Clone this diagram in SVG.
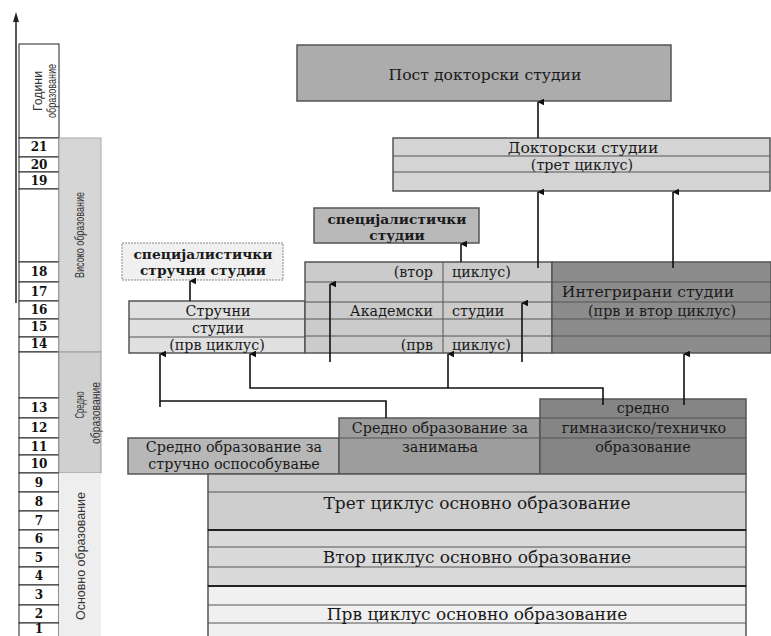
<svg xmlns="http://www.w3.org/2000/svg" width="771" height="636" viewBox="0 0 771 636">
<style>
.t{font-family:"DejaVu Serif","Liberation Serif",serif;fill:#1a1a1a;text-anchor:middle;dominant-baseline:central;font-size:14.3px}
.L{font-size:15.6px}
.B{font-size:17px}
.b{font-weight:bold;font-size:13.8px}
.s{text-anchor:start}
.e{text-anchor:end}
.n{font-family:"DejaVu Serif","Liberation Serif",serif;font-weight:bold;font-size:12px;fill:#111;text-anchor:middle;dominant-baseline:central}
.v{font-family:"Liberation Sans",sans-serif;font-size:13px;fill:#333;text-anchor:middle;dominant-baseline:central}
.box{stroke:#555;stroke-width:1.5}
.div{stroke:#555;stroke-width:1;fill:none}
.yr{fill:#fff;stroke:#222;stroke-width:1}
.c{stroke:#111;stroke-width:1.6;fill:none}
</style>
<defs>
<marker id="ah" viewBox="0 0 10 10" refX="5" refY="1" markerWidth="7" markerHeight="7" orient="auto-start-reverse" markerUnits="userSpaceOnUse">
<path d="M0,10 L5,0 L10,10 Z" fill="#111"/>
</marker>
</defs>
<rect width="771" height="636" fill="#fff"/>

<g id="axis">
<line x1="16" y1="303" x2="16" y2="18" stroke="#222" stroke-width="1.5"/>
<path d="M13,22 L16,12 L19,22 Z" fill="#222"/>
</g>

<g id="years">
<rect class="yr" x="19" y="44" width="40" height="94"/>
<text class="v" transform="translate(37,91) rotate(-90)" textLength="40" lengthAdjust="spacingAndGlyphs" font-size="12">Години</text>
<text class="v" transform="translate(51,91) rotate(-90)" textLength="54" lengthAdjust="spacingAndGlyphs" font-size="12">образование</text>
<rect class="yr" x="19" y="138" width="40" height="19"/><text class="n" x="39" y="147">21</text>
<rect class="yr" x="19" y="157" width="40" height="15"/><text class="n" x="39" y="164.5">20</text>
<rect class="yr" x="19" y="172" width="40" height="17"/><text class="n" x="39" y="180.5">19</text>
<rect class="yr" x="19" y="189" width="40" height="73"/>
<rect class="yr" x="19" y="262" width="40" height="20"/><text class="n" x="39" y="272">18</text>
<rect class="yr" x="19" y="282" width="40" height="19"/><text class="n" x="39" y="291.5">17</text>
<rect class="yr" x="19" y="301" width="40" height="18"/><text class="n" x="39" y="310">16</text>
<rect class="yr" x="19" y="319" width="40" height="18"/><text class="n" x="39" y="327">15</text>
<rect class="yr" x="19" y="337" width="40" height="15"/><text class="n" x="39" y="344">14</text>
<rect class="yr" x="19" y="352" width="40" height="46"/>
<rect class="yr" x="19" y="398" width="40" height="20"/><text class="n" x="39" y="408">13</text>
<rect class="yr" x="19" y="418" width="40" height="20"/><text class="n" x="39" y="428">12</text>
<rect class="yr" x="19" y="438" width="40" height="17"/><text class="n" x="39" y="446.5">11</text>
<rect class="yr" x="19" y="455" width="40" height="18"/><text class="n" x="39" y="464">10</text>
<rect class="yr" x="19" y="473" width="40" height="19"/><text class="n" x="39" y="482.5">9</text>
<rect class="yr" x="19" y="492" width="40" height="19"/><text class="n" x="39" y="501.5">8</text>
<rect class="yr" x="19" y="511" width="40" height="19"/><text class="n" x="39" y="520.5">7</text>
<rect class="yr" x="19" y="530" width="40" height="18"/><text class="n" x="39" y="539">6</text>
<rect class="yr" x="19" y="548" width="40" height="19"/><text class="n" x="39" y="557.5">5</text>
<rect class="yr" x="19" y="567" width="40" height="18"/><text class="n" x="39" y="576">4</text>
<rect class="yr" x="19" y="585" width="40" height="20"/><text class="n" x="39" y="595">3</text>
<rect class="yr" x="19" y="605" width="40" height="18"/><text class="n" x="39" y="614">2</text>
<rect class="yr" x="19" y="623" width="40" height="20"/><text class="n" x="39" y="629" font-size="11">1</text>
</g>

<g id="level-visoko">
<rect x="59" y="138" width="42" height="214" fill="#d6d6d6" stroke="#aaa" stroke-width="1"/>
<text class="v" transform="translate(79,235) rotate(-90)" textLength="86" lengthAdjust="spacingAndGlyphs">Високо образование</text>
</g>
<g id="level-sredno">
<rect x="59" y="352" width="42" height="121" fill="#d0d0d0" stroke="#999" stroke-width="1"/>
<text class="v" transform="translate(79,405) rotate(-90)" textLength="27" lengthAdjust="spacingAndGlyphs">Средно</text>
<text class="v" transform="translate(95,413) rotate(-90)" textLength="62" lengthAdjust="spacingAndGlyphs">образование</text>
</g>
<g id="level-osnovno">
<rect x="59" y="473" width="42" height="163" fill="#eeeeee"/>
<text class="v" transform="translate(80,556) rotate(-90)" textLength="128" lengthAdjust="spacingAndGlyphs">Основно образование</text>
</g>

<g id="postdoc">
<rect class="box" x="297" y="45" width="374" height="56" fill="#acacac"/>
<text class="t L" x="485" y="75">Пост докторски студии</text>
</g>

<g id="doctoral">
<rect class="box" x="393" y="138" width="377" height="53" fill="#d4d4d4"/>
<path class="div" d="M393,156H770M393,172H770"/>
<text class="t L" x="583" y="148">Докторски студии</text>
<text class="t" x="582" y="165">(трет циклус)</text>
</g>

<g id="spec-academic">
<rect class="box" x="314" y="208" width="165" height="35" fill="#b9b9b9"/>
<text class="t b" x="397" y="219">специјалистички</text>
<text class="t b" x="397" y="235">студии</text>
</g>

<g id="spec-vocational">
<rect x="122" y="243" width="161" height="37" fill="#f0f0f0" stroke="#888" stroke-width="1" stroke-dasharray="2,1"/>
<text class="t b" x="203" y="254">специјалистички</text>
<text class="t b" x="203" y="270">стручни студии</text>
</g>

<g id="vocational">
<rect class="box" x="129" y="301" width="176" height="52" fill="#e0e0e0"/>
<path class="div" d="M129,319H305M129,337H305"/>
<text class="t" x="218" y="311">Стручни</text>
<text class="t" x="218" y="328">студии</text>
<text class="t" x="217" y="345">(прв циклус)</text>
</g>

<g id="academic">
<rect class="box" x="305" y="262" width="247" height="91" fill="#cbcbcb"/>
<path class="div" d="M305,282H552M305,302H552M305,319H552M305,336H552M443,262V353"/>
<text class="t e" x="433" y="272">(втор</text>
<text class="t s" x="452" y="272">циклус)</text>
<text class="t e" x="433" y="311">Академски</text>
<text class="t s" x="452" y="311">студии</text>
<text class="t e" x="433" y="345">(прв</text>
<text class="t s" x="452" y="345">циклус)</text>
</g>

<g id="integrated">
<rect class="box" x="552" y="262" width="219" height="91" fill="#8c8c8c"/>
<path class="div" d="M552,282H771M552,302H771M552,319H771M552,336H771" stroke="#444"/>
<text class="t L" x="648" y="292">Интегрирани студии</text>
<text class="t" x="662" y="311">(прв и втор циклус)</text>
</g>

<g id="sec-training">
<rect class="box" x="128" y="438" width="211" height="36" fill="#b7b7b7"/>
<text class="t" x="234" y="447">Средно образование за</text>
<text class="t" x="234" y="464">стручно оспособување</text>
</g>

<g id="sec-occupations">
<rect class="box" x="339" y="418" width="201" height="56" fill="#9d9d9d"/>
<path class="div" d="M339,438H540"/>
<text class="t" x="440" y="428">Средно образование за</text>
<text class="t" x="440" y="447">занимања</text>
</g>

<g id="sec-gymnasium">
<rect class="box" x="540" y="399" width="206" height="75" fill="#858585"/>
<path class="div" d="M540,418H746M540,438H746" stroke="#444"/>
<text class="t" x="643" y="408">средно</text>
<text class="t" x="644" y="428">гимназиско/техничко</text>
<text class="t" x="643" y="447">образование</text>
</g>

<g id="basic-3">
<rect class="box" x="208" y="474" width="538" height="56" fill="#cecece"/>
<path class="div" d="M208,492H746"/>
<text class="t B" x="477" y="503">Трет циклус основно образование</text>
</g>
<g id="basic-2">
<rect class="box" x="208" y="530" width="538" height="56" fill="#dadada"/>
<path class="div" d="M208,547H746M208,567H746"/>
<text class="t B" x="477" y="557">Втор циклус основно образование</text>
</g>
<g id="basic-1">
<rect class="box" x="208" y="586" width="538" height="52" fill="#f0f0f0"/>
<path class="div" d="M208,605H746M208,623H746" stroke="#999"/>
<text class="t B" x="477" y="614">Прв циклус основно образование</text>
</g>
<line x1="208" y1="530" x2="746" y2="530" stroke="#222" stroke-width="2"/>
<line x1="208" y1="586" x2="746" y2="586" stroke="#222" stroke-width="2"/>

<g id="connectors">
<path class="c" d="M538,138V102" marker-end="url(#ah)"/>
<path class="c" d="M538,268V192" marker-end="url(#ah)"/>
<path class="c" d="M673,268V192" marker-end="url(#ah)"/>
<path class="c" d="M461,262V244" marker-end="url(#ah)"/>
<path class="c" d="M190,301V281" marker-end="url(#ah)"/>
<path class="c" d="M330,362V284" marker-end="url(#ah)"/>
<path class="c" d="M522,362V303" marker-end="url(#ah)"/>
<path class="c" d="M386,418V401H160V354" marker-end="url(#ah)"/>
<path class="c" d="M160,401V407"/>
<path class="c" d="M603,405V388H250V354" marker-end="url(#ah)"/>
<path class="c" d="M448,388V354" marker-end="url(#ah)"/>
<path class="c" d="M684,405V354" marker-end="url(#ah)"/>
</g>
</svg>
